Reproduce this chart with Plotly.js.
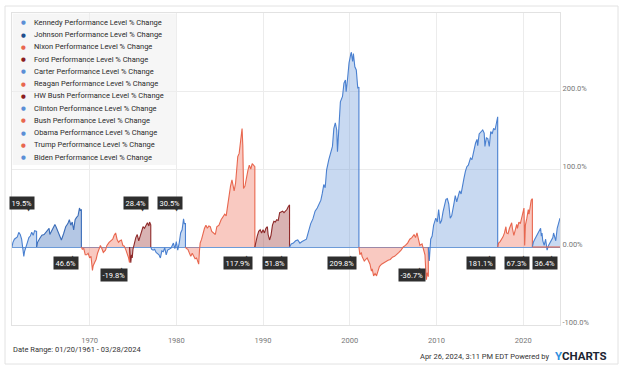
<!DOCTYPE html>
<html>
<head>
<meta charset="utf-8">
<script src="https://cdn.plot.ly/plotly-3.0.1.min.js"></script>
<style>html,body{margin:0;padding:0;background:#fff;}#chart{width:624px;height:370px;}</style>
</head>
<body>
<div id="chart"></div>
<script>
// ---------- DATA ----------
const presidents = ['Kennedy','Johnson','Nixon','Ford','Carter','Reagan','HW Bush','Clinton','Bush','Obama','Trump','Biden'];
const termChangeLabels = [19.5, 46.6, -19.8, 28.4, 30.5, 117.9, 51.8, 209.8, -36.7, 181.1, 67.3, 36.4];
const dataEnd = '2024-03-28';
const xTickYears = ['1970','1980','1990','2000','2010','2020'];
const yTickVals = [-100, 0, 100, 200];
const yTickText = ['-100.0%', '0.00%', '100.0%', '200.0%'];

const kennedyX = ['1961-01-20','1961-03','1961-05','1961-07','1961-09','1961-11','1962-01','1962-03','1962-05','1962-06','1962-07','1962-09','1962-11','1963-01','1963-03','1963-05','1963-07','1963-09','1963-11-22'];
const kennedyY = [0,6,10,11,13,18.7,16,10,-2,-12,-6,2,6,12,14,19,15,21,20];

const johnsonX = ['1963-11-22','1964-01','1964-04','1964-07','1964-10','1965-01','1965-05','1965-06','1965-09','1966-01','1966-03','1966-05','1966-08','1966-10','1967-01','1967-04','1967-07','1967-09','1967-11','1968-01','1968-03','1968-05','1968-07','1968-09','1968-11','1968-12','1969-01-20'];
const johnsonY = [0,6,11,15,16,20,24,16,22,29,25,20,12,9,17,26,30,35,28,32,22,35,38,40,50,47,48];

const nixonX = ['1969-01-20','1969-03','1969-05','1969-07','1969-09','1969-11','1970-01','1970-03','1970-05','1970-06','1970-08','1970-10','1970-12','1971-02','1971-04','1971-06','1971-08','1971-11','1972-01','1972-04','1972-07','1972-09','1972-11','1973-01','1973-03','1973-05','1973-07','1973-09','1973-11','1974-01','1974-03','1974-05','1974-07','1974-08-09'];
const nixonY = [0,-3,-2,-10,-10,-8,-14,-12,-30,-24,-20,-16,-8,-3,2,-2,-7,-4,2,6,8,10,15,18,10,6,8,9,2,1,-3,-8,-14,-20];

const fordX = ['1974-08-09','1974-09','1974-10','1974-11','1974-12','1975-01','1975-03','1975-05','1975-07','1975-09','1975-11','1976-01','1976-03','1976-05','1976-07','1976-09','1976-11','1976-12','1977-01-20'];
const fordY = [0,-12,-20,-10,-14,-3,7,12,16,8,14,22,26,24,28,31,27,32,28.4];

const carterX = ['1977-01-20','1977-03','1977-05','1977-07','1977-09','1977-11','1978-01','1978-03','1978-05','1978-07','1978-09','1978-11','1979-01','1979-03','1979-06','1979-09','1979-11','1980-01','1980-03','1980-05','1980-07','1980-09','1980-11','1980-12','1981-01-20'];
const carterY = [0,-3,-4,-3,-7,-9,-10,-14,-5,-6,-1,-10,-4,-3,-1,5,-2,7,-4,5,18,22,36,30,30];

const reaganX = ['1981-01-20','1981-03','1981-05','1981-07','1981-09','1981-11','1982-01','1982-03','1982-05','1982-07','1982-08','1982-09','1982-10','1982-12','1983-02','1983-04','1983-06','1983-08','1983-10','1983-12','1984-02','1984-05','1984-07','1984-09','1984-12','1985-03','1985-06','1985-08','1985-10','1985-12','1986-02','1986-04','1986-06','1986-09','1986-11','1987-01','1987-02','1987-04','1987-06','1987-08','1987-09','1987-10','1987-12','1988-02','1988-04','1988-06','1988-08','1988-10','1988-12','1989-01-20'];
const reaganY = [0,-2,-3,-7,-12,-8,-12,-15,-14,-18,-22,-5,5,10,18,24,28,24,27,26,20,18,16,26,28,35,39,42,40,55,65,78,86,72,82,105,116,120,133,152,130,75,78,90,98,105,100,107,104,103];

const hwBushX = ['1989-01-20','1989-03','1989-05','1989-07','1989-09','1989-11','1990-01','1990-03','1990-05','1990-07','1990-08','1990-10','1990-12','1991-02','1991-04','1991-06','1991-08','1991-10','1991-12','1992-02','1992-04','1992-06','1992-08','1992-10','1992-12','1993-01-20'];
const hwBushY = [0,8,14,20,22,18,22,18,24,26,16,9,15,28,33,32,35,34,44,45,46,44,46,48,52,54];

const clintonX = ['1993-01-20','1993-04','1993-07','1993-10','1994-01','1994-04','1994-07','1994-10','1995-01','1995-04','1995-07','1995-10','1996-01','1996-04','1996-06','1996-09','1996-11','1997-01','1997-03','1997-05','1997-08','1997-10','1998-01','1998-03','1998-05','1998-07','1998-08','1998-10','1998-12','1999-03','1999-05','1999-07','1999-08','1999-10','1999-12','2000-03','2000-05','2000-06','2000-08','2000-10','2000-12','2001-01-20'];
const clintonY = [0,4,5,8,9,5,7,8,10,20,30,36,46,50,54,60,69,80,76,99,112,118,129,152,159,150,122,154,186,193,210,214,199,216,236,250,238,248,231,227,204,205];

const bushX = ['2001-01-20','2001-03','2001-05','2001-06','2001-09','2001-11','2002-01','2002-03','2002-05','2002-07','2002-08','2002-10','2002-12','2003-02','2003-04','2003-06','2003-09','2003-12','2004-03','2004-06','2004-09','2004-12','2005-03','2005-06','2005-09','2005-12','2006-03','2006-06','2006-09','2006-12','2007-03','2007-06','2007-08','2007-10','2007-12','2008-02','2008-05','2008-07','2008-09','2008-10','2008-11','2008-12','2009-01-20'];
const bushY = [0,-10,-7,-12,-18,-16,-14,-18,-22,-31,-28,-37,-34,-37,-29,-25,-22,-20,-18,-17,-16,-13,-12,-10,-7,-4,0,2,5,10,12,16,12,18,10,2,4,-3,-10,-28,-42,-33,-38];

const obamaX = ['2009-01-20','2009-03','2009-05','2009-07','2009-09','2009-12','2010-02','2010-04','2010-06','2010-08','2010-10','2010-12','2011-02','2011-04','2011-06','2011-08','2011-10','2012-01','2012-03','2012-05','2012-07','2012-09','2012-11','2013-01','2013-03','2013-05','2013-07','2013-09','2013-12','2014-02','2014-04','2014-07','2014-09','2014-10','2014-12','2015-02','2015-05','2015-07','2015-08','2015-10','2015-12','2016-02','2016-04','2016-06','2016-08','2016-10','2016-12','2017-01-20'];
const obamaY = [0,-18,10,14,28,37,32,48,30,34,45,52,61,62,55,37,40,55,66,58,65,72,68,80,88,97,103,105,114,112,122,133,138,130,145,147,150,146,129,140,139,129,148,145,152,150,163,167];

const trumpX = ['2017-01-20','2017-03','2017-05','2017-07','2017-09','2017-11','2018-01','2018-02','2018-04','2018-06','2018-09','2018-10','2018-12','2019-02','2019-04','2019-05','2019-07','2019-09','2019-11','2020-01','2020-02','2020-03','2020-04','2020-06','2020-08','2020-09','2020-10','2020-12','2021-01-20'];
const trumpY = [0,5,7,10,13,18,26,18,17,24,31,24,15,22,29,24,32,30,38,45,50,2,28,37,48,42,48,60,62];

const bidenX = ['2021-01-20','2021-03','2021-05','2021-07','2021-09','2021-11','2022-01','2022-02','2022-03','2022-04','2022-06','2022-08','2022-09','2022-10','2022-12','2023-02','2023-04','2023-06','2023-07','2023-09','2023-10','2023-12','2024-02','2024-03-28'];
const bidenY = [0,6,10,14,18,22,24,14,18,8,2,10,-2,-4,2,5,8,12,18,12,8,24,32,37];

const seriesX = [kennedyX, johnsonX, nixonX, fordX, carterX, reaganX, hwBushX, clintonX, bushX, obamaX, trumpX, bidenX];
const seriesY = [kennedyY, johnsonY, nixonY, fordY, carterY, reaganY, hwBushY, clintonY, bushY, obamaY, trumpY, bidenY];

// ---------- STYLE ----------
const BLUE = '#4a80d0', BLUE_F = 'rgba(74,128,208,0.30)';
const JBLUE = '#3a6cb8', JBLUE_F = 'rgba(58,108,184,0.38)';
const RED = '#e8674f', RED_F = 'rgba(238,104,82,0.36)';
const DRED = '#8e2a2a', DRED_F = 'rgba(150,45,45,0.36)';
const lineColors = [BLUE, JBLUE, RED, DRED, BLUE, RED, DRED, BLUE, RED, BLUE, RED, BLUE];
const fillColors = [BLUE_F, JBLUE_F, RED_F, DRED_F, BLUE_F, RED_F, DRED_F, BLUE_F, RED_F, BLUE_F, RED_F, BLUE_F];
const dotColors = ['#5b8fd6','#1f4e8c','#e8674f','#8b1e1e','#5b8fd6','#e8674f','#8b1e1e','#5b8fd6','#e8674f','#5b8fd6','#e8674f','#5b8fd6'];
const flagRow = ['up','low','lowest','up','up','low','low','low','lowest','low','low','low'];
const flagY = {up: 56, low: -20, lowest: -36};

const FONT = 'Roboto, "Open Sans", sans-serif';
const L = 12, T = 13, W = 548, H = 312;
const xp = px => (px - L) / W;
const yp = py => (T + H - py) / H;

const traces = [];
presidents.forEach((p, i) => {
  const x = seriesX[i].slice(), y = seriesY[i].slice();
  const last = x[x.length - 1];
  if (last !== dataEnd) { x.push(last); y.push(0); }   // drop back to baseline at end of term
  traces.push({
    x: x, y: y, type: 'scatter', mode: 'lines', name: p + ' Performance Level % Change',
    line: {color: lineColors[i], width: 1.1}, fill: 'tozeroy', fillcolor: fillColors[i],
    showlegend: false, hoverinfo: 'skip'
  });
});
// Trump series stays at 0 after the end of its term
traces.push({
  x: [trumpX[trumpX.length - 1], dataEnd], y: [0, 0], type: 'scatter', mode: 'lines',
  line: {color: RED, width: 1.1}, showlegend: false, hoverinfo: 'skip'
});

const annotations = [];
// flags with term change
presidents.forEach((p, i) => {
  const end = seriesX[i][seriesX[i].length - 1];
  const row = flagRow[i];
  annotations.push({
    x: end, y: flagY[row], xref: 'x', yref: 'y', xanchor: 'right', yanchor: 'middle', xshift: -2,
    text: termChangeLabels[i].toFixed(1) + '%', showarrow: false,
    font: {family: FONT, size: 7.5, color: '#ffffff'}, bgcolor: '#2e2e2e', borderpad: 1.5
  });
  // small pointer of the flag
  annotations.push({
    x: end, y: flagY[row], xref: 'x', yref: 'y', xanchor: 'center', yanchor: 'middle',
    xshift: -8, yshift: row === 'up' ? -6.5 : 6.5,
    text: row === 'up' ? '▼' : '▲', showarrow: false,
    font: {family: 'DejaVu Sans', size: 4, color: '#2e2e2e'}
  });
});
// custom legend
presidents.forEach((p, i) => {
  const py = 22.3 + i * 12.25;
  annotations.push({
    x: xp(23.3), y: yp(py), xref: 'paper', yref: 'paper', xanchor: 'center', yanchor: 'middle',
    text: '●', showarrow: false, font: {family: 'DejaVu Sans', size: 5.5, color: dotColors[i]}
  });
  annotations.push({
    x: xp(31.5), y: yp(py), xref: 'paper', yref: 'paper', xanchor: 'left', yanchor: 'middle',
    text: p + ' Performance Level % Change', showarrow: false,
    font: {family: FONT, size: 7.5, color: '#2a2a2a'}
  });
});
// footer
annotations.push({
  x: xp(11), y: yp(349.5), xref: 'paper', yref: 'paper', xanchor: 'left', yanchor: 'middle',
  text: 'Date Range: 01/20/1961 - 03/28/2024', showarrow: false, font: {family: FONT, size: 7.5, color: '#333'}
});
annotations.push({
  x: xp(551), y: yp(356), xref: 'paper', yref: 'paper', xanchor: 'right', yanchor: 'middle',
  text: 'Apr 26, 2024, 3:11 PM EDT Powered by', showarrow: false, font: {family: FONT, size: 7.5, color: '#333'}
});
annotations.push({
  x: xp(553), y: yp(355.5), xref: 'paper', yref: 'paper', xanchor: 'left', yanchor: 'middle',
  text: '<b><span style="color:#2f8fe0">Y</span>CHARTS</b>', showarrow: false,
  font: {family: FONT, size: 11.5, color: '#1b2533'}
});

const shapes = [
  {type: 'rect', xref: 'paper', yref: 'paper', x0: xp(5), x1: xp(618), y0: yp(364), y1: yp(6),
   line: {color: '#e2e2e2', width: 1}, fillcolor: 'rgba(0,0,0,0)', layer: 'below'},
  {type: 'rect', xref: 'paper', yref: 'paper', x0: xp(12.7), x1: xp(177), y0: yp(165), y1: yp(13.5),
   line: {width: 0}, fillcolor: 'rgba(238,238,238,0.55)', layer: 'above'}
];

const layout = {
  width: 624, height: 370,
  margin: {l: L, r: 624 - L - W, t: T, b: 370 - T - H, pad: 0},
  paper_bgcolor: '#ffffff', plot_bgcolor: '#ffffff',
  showlegend: false,
  font: {family: FONT, size: 8, color: '#777'},
  xaxis: {
    type: 'date', range: ['1961-01-20', dataEnd], fixedrange: true,
    tickvals: xTickYears.map(y => y + '-01-01'), ticktext: xTickYears,
    ticks: 'outside', ticklen: 8, tickcolor: 'rgba(0,0,0,0)',
    showgrid: true, gridcolor: '#ececec', gridwidth: 1,
    showline: true, linecolor: '#e2e2e2', linewidth: 1, mirror: true, zeroline: false,
    tickfont: {family: FONT, size: 7.5, color: '#777'}
  },
  yaxis: {
    range: [-100, 300], side: 'right', fixedrange: true,
    tickvals: yTickVals, ticktext: yTickText, ticks: '',
    ticklabelshift: -3,
    showgrid: true, gridcolor: '#ececec', gridwidth: 1,
    showline: true, linecolor: '#e2e2e2', linewidth: 1, mirror: true,
    zeroline: true, zerolinecolor: '#6d9bd8', zerolinewidth: 1,
    tickfont: {family: FONT, size: 7.5, color: '#777'}
  },
  annotations: annotations, shapes: shapes
};

Plotly.newPlot('chart', traces, layout, {displayModeBar: false, staticPlot: true});
</script>
</body>
</html>
